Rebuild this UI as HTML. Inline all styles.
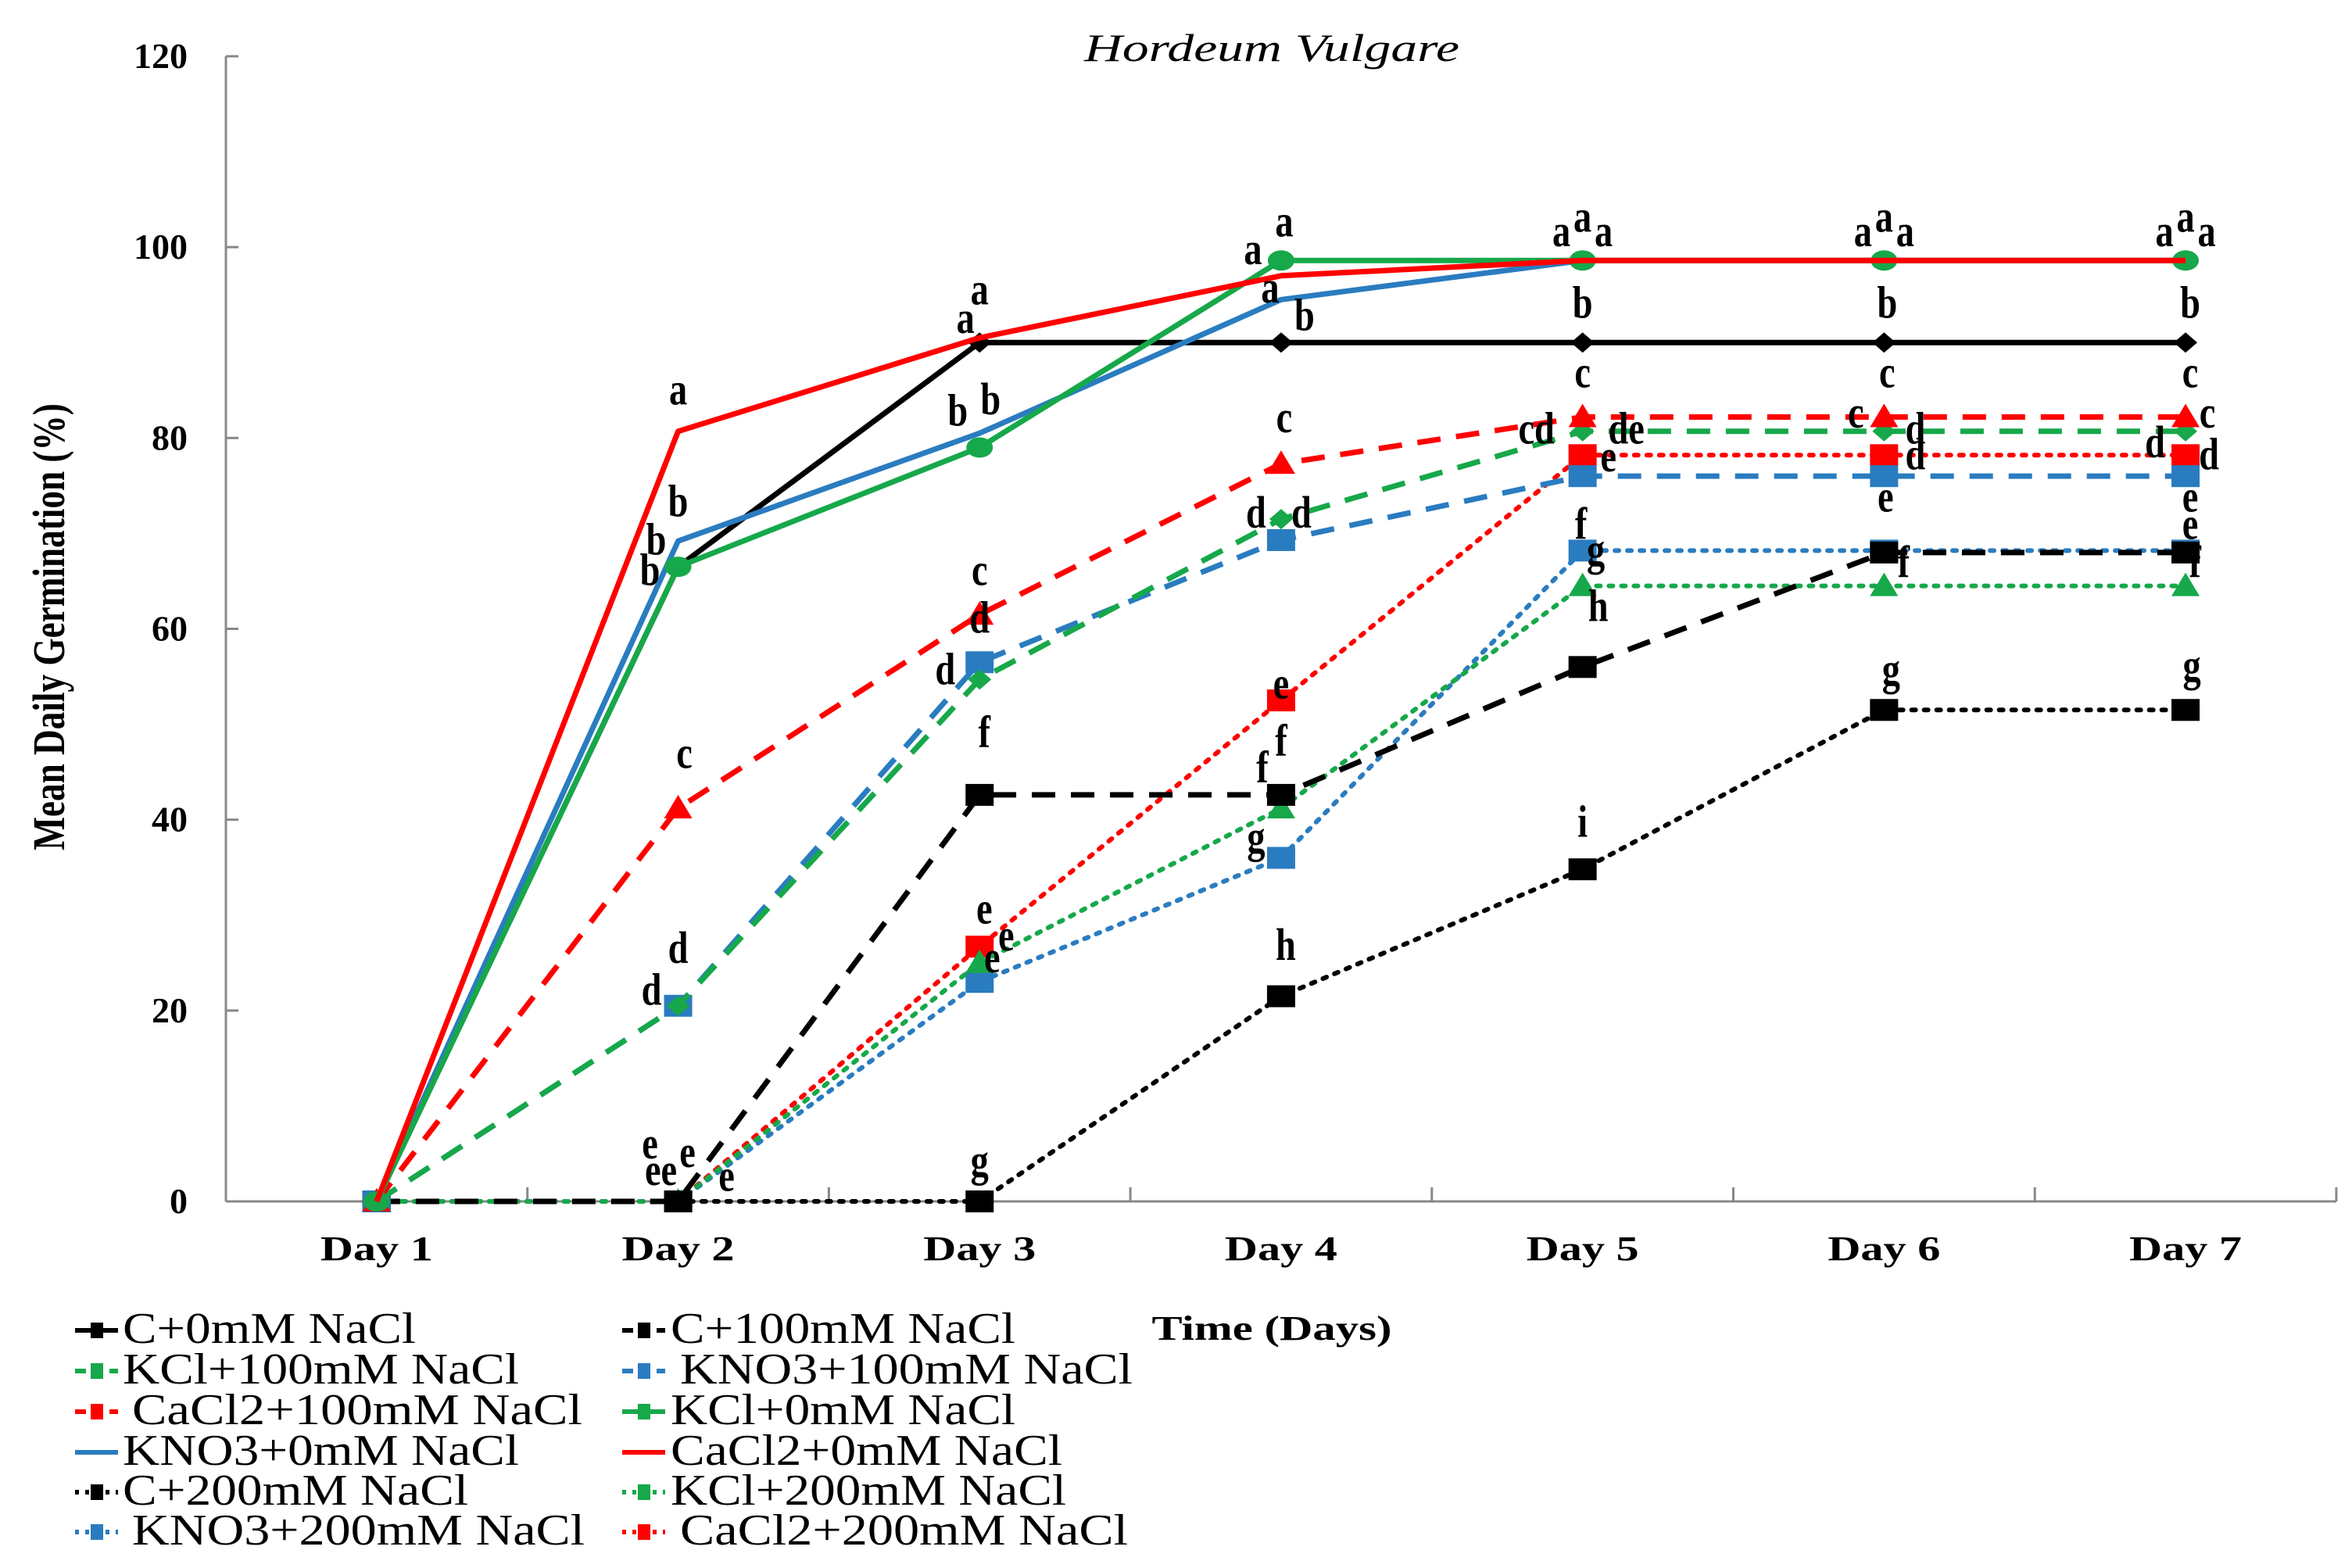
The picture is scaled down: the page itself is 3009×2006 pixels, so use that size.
<!DOCTYPE html>
<html><head><meta charset="utf-8"><style>
html,body{margin:0;padding:0;background:#fff;}
svg{display:block;}
text{font-family:"Liberation Serif","Times New Roman",serif;}
</style></head><body>
<svg id="chart" width="3009" height="2006" viewBox="0 0 3009 2006" xmlns="http://www.w3.org/2000/svg">
<rect x="0" y="0" width="3009" height="2006" fill="#fff"/>
<text x="1627" y="78" font-size="50" font-style="italic" text-anchor="middle" textLength="480" lengthAdjust="spacingAndGlyphs">Hordeum Vulgare</text>
<text transform="translate(82,802) rotate(-90) scale(0.78,1)" font-size="58" font-weight="bold" text-anchor="middle">Mean Daily Germination (%)</text>
<text x="1627" y="1714" font-size="44" font-weight="bold" text-anchor="middle" textLength="307" lengthAdjust="spacingAndGlyphs">Time (Days)</text>
<g id="axes"></g>
<g id="series"></g>
<g id="letters"></g>
<g id="legend"></g>
</svg>
<script>
const categories = ["Day 1","Day 2","Day 3","Day 4","Day 5","Day 6","Day 7"];
const yTicks = [0,20,40,60,80,100,120];
const seriesNames = ["C+0mM NaCl","C+100mM NaCl","KCl+100mM NaCl","KNO3+100mM NaCl","CaCl2+100mM NaCl","KCl+0mM NaCl","KNO3+0mM NaCl","CaCl2+0mM NaCl","C+200mM NaCl","KCl+200mM NaCl","KNO3+200mM NaCl","CaCl2+200mM NaCl"];
const valsC0 = [0,66.5,90,90,90,90,90];
const valsC100 = [0,0,42.6,42.6,56,68,68];
const valsKCl100 = [0,20.5,54.7,71.5,80.7,80.7,80.7];
const valsKNO3100 = [0,20.5,56.5,69.3,76,76,76];
const valsCaCl2100 = [0,41.2,61.5,77.3,82.2,82.2,82.2];
const valsKCl0 = [0,66.5,79,98.6,98.6,98.6,98.6];
const valsKNO30 = [0,69.2,80.5,94.5,98.6,98.6,98.6];
const valsCaCl20 = [0,80.7,90.5,97,98.6,98.6,98.6];
const valsC200 = [0,0,0,21.5,34.8,51.5,51.5];
const valsKCl200 = [0,0,25,41.2,64.5,64.5,64.5];
const valsKNO3200 = [0,0,23,36,68.2,68.2,68.2];
const valsCaCl2200 = [0,0,26.7,52.5,78.2,78.2,78.2];
// significance letters: [dayIndex, dx, value, text]
const letters = [
 [1,0,83.5,"a"],[1,0,71.8,"b"],[1,-28,67.8,"b"],[1,-36,64.6,"b"],[1,8,45.4,"c"],[1,0,25,"d"],[1,-34,20.6,"d"],[1,-36,4.5,"e"],[1,-22,1.7,"ee"],[1,12,3.6,"e"],[1,62,1.1,"e"],
 [2,0,94,"a"],[2,-18,91,"a"],[2,14,82.5,"b"],[2,-28,81.3,"b"],[2,0,64.6,"c"],[2,0,59.6,"d"],[2,-44,54.2,"d"],[2,6,47.6,"f"],[2,6,29.1,"e"],[2,34,26.3,"e"],[2,16,24,"e"],[2,0,2.7,"g"],
 [3,4,101.1,"a"],[3,-36,98.2,"a"],[3,-14,94.2,"a"],[3,30,91.3,"b"],[3,4,80.6,"c"],[3,-32,70.6,"d"],[3,26,70.6,"d"],[3,0,52.7,"e"],[3,0,46.7,"f"],[3,-24,43.9,"f"],[3,-32,36.6,"g"],[3,6,25.3,"h"],
 [4,-27,100.1,"a"],[4,0,101.6,"a"],[4,27,100.1,"a"],[4,0,92.6,"b"],[4,0,85.3,"c"],[4,-59,79.4,"cd"],[4,56,79.4,"de"],[4,33,76.5,"e"],[4,-2,69.4,"f"],[4,17,66.7,"g"],[4,20,60.8,"h"],[4,0,38.2,"i"],
 [5,-27,100.1,"a"],[5,0,101.6,"a"],[5,27,100.1,"a"],[5,4,92.6,"b"],[5,4,85.3,"c"],[5,-36,81.1,"c"],[5,40,79.4,"d"],[5,40,76.7,"d"],[5,2,72.3,"e"],[5,25,65.4,"f"],[5,9,54.2,"g"],
 [6,-27,100.1,"a"],[6,0,101.6,"a"],[6,27,100.1,"a"],[6,6,92.6,"b"],[6,6,85.3,"c"],[6,28,81.1,"c"],[6,-39,78,"d"],[6,30,76.7,"d"],[6,6,72.3,"e"],[6,6,69.4,"e"],[6,12,65.4,"f"],[6,8,54.6,"g"]
];

const NS="http://www.w3.org/2000/svg";
const X0=289, XW=385.7, Y0=1537, YPER=1465/120;
function xScale(i){return X0+XW*(i+0.5);}
function yScale(v){return Y0-v*YPER;}
function mk(tag,attrs,parent){const e=document.createElementNS(NS,tag);for(const k in attrs)e.setAttribute(k,attrs[k]);parent.appendChild(e);return e;}

const axes=document.getElementById('axes');
let a=mk('line',{x1:X0,y1:yScale(120),x2:X0,y2:Y0,stroke:'#888','stroke-width':3},axes);


a=mk('line',{x1:X0,y1:Y0,x2:X0+7*XW,y2:Y0,stroke:'#888','stroke-width':3},axes);


yTicks.forEach(t=>{
  mk('line',{x1:X0,y1:yScale(t),x2:X0+16,y2:yScale(t),stroke:'#888','stroke-width':3},axes);
  const tx=mk('text',{x:240,y:yScale(t)+15,'font-size':46,'font-weight':'bold','text-anchor':'end'},axes);
  tx.textContent=t;
  
  
});
for(let i=1;i<=7;i++){mk('line',{x1:X0+XW*i,y1:Y0,x2:X0+XW*i,y2:Y0-18,stroke:'#888','stroke-width':3},axes);}
categories.forEach((c,i)=>{
  const tx=mk('text',{x:xScale(i),y:1612,'font-size':44,'font-weight':'bold','text-anchor':'middle',textLength:144,lengthAdjust:'spacingAndGlyphs'},axes);
  tx.textContent=c;
  
  
});

const BLACK='#000',GREEN='#16a84a',BLUE='#2a7cc0',RED='#ff0000';
const SOLID='',DASH='30 20',DOT='5 11';
const styles=[
 {v:valsC0,c:BLACK,d:SOLID,m:'diamond'},
 {v:valsC100,c:BLACK,d:DASH,m:'square'},
 {v:valsKCl100,c:GREEN,d:DASH,m:'diamond'},
 {v:valsKNO3100,c:BLUE,d:DASH,m:'square'},
 {v:valsCaCl2100,c:RED,d:DASH,m:'triangle'},
 {v:valsKCl0,c:GREEN,d:SOLID,m:'circle'},
 {v:valsKNO30,c:BLUE,d:SOLID,m:'none'},
 {v:valsCaCl20,c:RED,d:SOLID,m:'none'},
 {v:valsC200,c:BLACK,d:DOT,m:'square'},
 {v:valsKCl200,c:GREEN,d:DOT,m:'triangle'},
 {v:valsKNO3200,c:BLUE,d:DOT,m:'square'},
 {v:valsCaCl2200,c:RED,d:DOT,m:'square'}
];
const order=[8,11,10,9,1,3,2,4,0,6,5,7];
const sg=document.getElementById('series');
function marker(m,x,y,c,g){
  if(m==='square')return mk('rect',{x:x-18,y:y-14,width:36,height:28,fill:c},g);
  if(m==='triangle')return mk('polygon',{points:`${x},${y-17} ${x+18},${y+13} ${x-18},${y+13}`,fill:c},g);
  if(m==='diamond')return mk('polygon',{points:`${x},${y-13} ${x+15},${y} ${x},${y+13} ${x-15},${y}`,fill:c},g);
  if(m==='circle')return mk('ellipse',{cx:x,cy:y,rx:17,ry:13,fill:c},g);
  return null;
}
order.forEach(si=>{
  const s=styles[si];
  const g=mk('g',{},sg);
  
  
  const pts=s.v.map((v,i)=>xScale(i)+','+yScale(v)).join(' ');
  const pl=mk('polyline',{points:pts,fill:'none',stroke:s.c,'stroke-width':s.d===DOT?6:7,'stroke-linecap':s.d===DOT?'round':'butt','stroke-linejoin':'round'},g);
  if(s.d)pl.setAttribute('stroke-dasharray',s.d);
  
  
  s.v.forEach((v,i)=>{
    const mm=marker(s.m,xScale(i),yScale(v),s.c,g);
    if(mm){
      
      
    }
  });
});

const lg=document.getElementById('letters');
letters.forEach(L=>{
  const x=xScale(L[0])+L[1], y=yScale(L[2]);
  const tx=mk('text',{transform:`translate(${x},${y}) scale(0.8,1)`,x:0,y:0,'font-size':58,'font-weight':'bold','text-anchor':'middle'},lg);
  tx.textContent=L[3];
  
  
});

// legend
const legX=[96,796], legTextX=[157,858];
const legEnd=[[532,664,745,664,599,748],[1299,1449,1299,1359,1364,1443]];
const legRows=[1718,1770,1822,1874,1925,1976];
const legIdx=[[0,2,4,6,8,10],[1,3,5,7,9,11]];
const legend=document.getElementById('legend');
for(let c=0;c<2;c++){for(let r=0;r<6;r++){
  const si=legIdx[c][r], s=styles[si], y=legRows[r]-16;
  const g=mk('g',{},legend);
  
  
  const ln=mk('line',{x1:legX[c],y1:y,x2:legX[c]+55,y2:y,stroke:s.c,'stroke-width':6},g);
  if(s.d)ln.setAttribute('stroke-dasharray',s.d===DOT?'5 8':'14 8');
  if(s.m!=='none'){mk('rect',{x:legX[c]+20,y:y-10,width:16,height:20,fill:s.c},g);}
  const tsx=(si===4||si===10||si===3||si===11)?legTextX[c]+12:legTextX[c];
  const tx=mk('text',{x:tsx,y:legRows[r],'font-size':56,textLength:legEnd[c][r]-tsx,lengthAdjust:'spacingAndGlyphs'},g);
  tx.textContent=seriesNames[si];
}}
</script>
</body></html>
